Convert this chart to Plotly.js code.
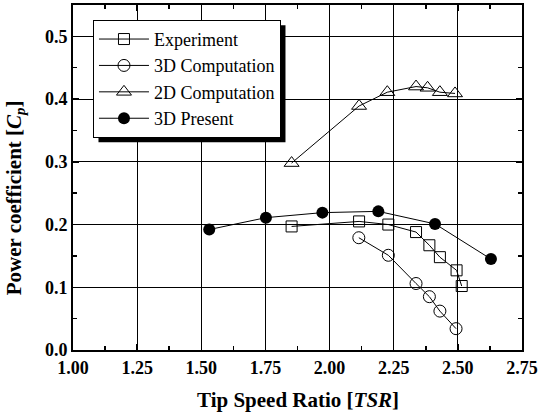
<!DOCTYPE html>
<html><head><meta charset="utf-8">
<script src="https://cdn.plot.ly/plotly-3.0.1.min.js"></script>
<style>body{margin:0;background:#fff}#c{width:541px;height:416px}</style>
</head><body><div id="c"></div>
<script>
const expTSR = [1.852, 2.115, 2.229, 2.337, 2.389, 2.430, 2.495, 2.515];
const expCp  = [0.197, 0.205, 0.200, 0.188, 0.167, 0.148, 0.127, 0.102];
const comp3dTSR = [2.114, 2.229, 2.337, 2.389, 2.430, 2.493];
const comp3dCp  = [0.179, 0.151, 0.106, 0.085, 0.062, 0.034];
const comp2dTSR = [1.852, 2.115, 2.225, 2.337, 2.382, 2.430, 2.489];
const comp2dCp  = [0.298, 0.389, 0.411, 0.420, 0.418, 0.411, 0.409];
const presTSR = [1.531, 1.752, 1.972, 2.190, 2.411, 2.629];
const presCp  = [0.192, 0.211, 0.219, 0.221, 0.201, 0.145];
const xTitle = 'Tip Speed Ratio [<i>TSR</i>]';
const yTitle = 'Power coefficient [<i>C</i><sub><i>p</i></sub>]';

const FAM = 'Liberation Serif';
const line = {color:'#000', width:1};
const traces = [
  {x:expTSR, y:expCp, name:'Experiment', mode:'lines+markers', line,
   marker:{symbol:'square-open', size:11, color:'#000', line:{width:1}}},
  {x:comp3dTSR, y:comp3dCp, name:'3D Computation', mode:'lines+markers', line,
   marker:{symbol:'circle-open', size:12, color:'#000', line:{width:1}}},
  {x:comp2dTSR, y:comp2dCp, name:'2D Computation', mode:'lines+markers', line,
   marker:{symbol:'triangle-up-open', size:13, color:'#000', line:{width:1}}},
  {x:presTSR, y:presCp, name:'3D Present', mode:'lines+markers', line,
   marker:{symbol:'circle', size:12, color:'#000'}}
];
const tickFont = {family:FAM, size:18, color:'#000', weight:'bold'};
const ax = {
  showline:true, linewidth:2, linecolor:'#000', mirror:'allticks',
  ticks:'inside', ticklen:6, tickwidth:1.5, tickcolor:'#000',
  showgrid:true, gridcolor:'#000', gridwidth:1, zeroline:false,
  tickfont:tickFont
};
const titleFont = {family:FAM, size:21, color:'#000', weight:'bold'};
const layout = {
  width:541, height:416,
  font:{family:FAM, color:'#000'},
  margin:{l:73, r:19, t:5, b:66},
  paper_bgcolor:'#fff', plot_bgcolor:'#fff',
  showlegend:true,
  xaxis:Object.assign({}, ax, {range:[1.0,2.75], dtick:0.25, tick0:1, tickformat:'.2f',
    minor:{ticks:'inside', ticklen:4, dtick:0.125, tick0:1, tickcolor:'#000', showgrid:false}}),
  yaxis:Object.assign({}, ax, {range:[0,0.55], dtick:0.1, tick0:0, tickformat:'.1f',
    minor:{ticks:'inside', ticklen:4, dtick:0.05, tick0:0, tickcolor:'#000', showgrid:false}}),
  legend:{x:0.0445, y:0.957, xanchor:'left', yanchor:'top', bgcolor:'#fff', bordercolor:'#000', borderwidth:1,
    font:{family:FAM, size:18, color:'#000'}, tracegroupgap:0, itemwidth:50},
  annotations:[
    {text:xTitle, xref:'paper', yref:'paper', x:0.5, y:-0.145, xanchor:'center', yanchor:'middle', showarrow:false, font:titleFont},
    {text:yTitle, xref:'paper', yref:'paper', x:-0.129, y:0.44, xanchor:'center', yanchor:'middle', textangle:-90, showarrow:false, font:titleFont}
  ]
};
Plotly.newPlot('c', traces, layout, {displayModeBar:false, staticPlot:true}).then(gd => {
  const bg = gd.querySelector('.legend .bg');
  if (!bg) return;
  const r = bg.getBoundingClientRect();
  const c = gd.getBoundingClientRect();
  const fl = gd._fullLayout, s = fl._size;
  const px = v => (v - c.left - s.l) / s.w;
  const py = v => 1 - (v - c.top - s.t) / s.h;
  const off = 5;
  Plotly.relayout(gd, {shapes:[{type:'rect', xref:'paper', yref:'paper',
    x0:px(r.left + off), x1:px(r.right + off), y0:py(r.bottom + off), y1:py(r.top + off),
    fillcolor:'#000', line:{width:0}, layer:'above'}]});
});
</script></body></html>
